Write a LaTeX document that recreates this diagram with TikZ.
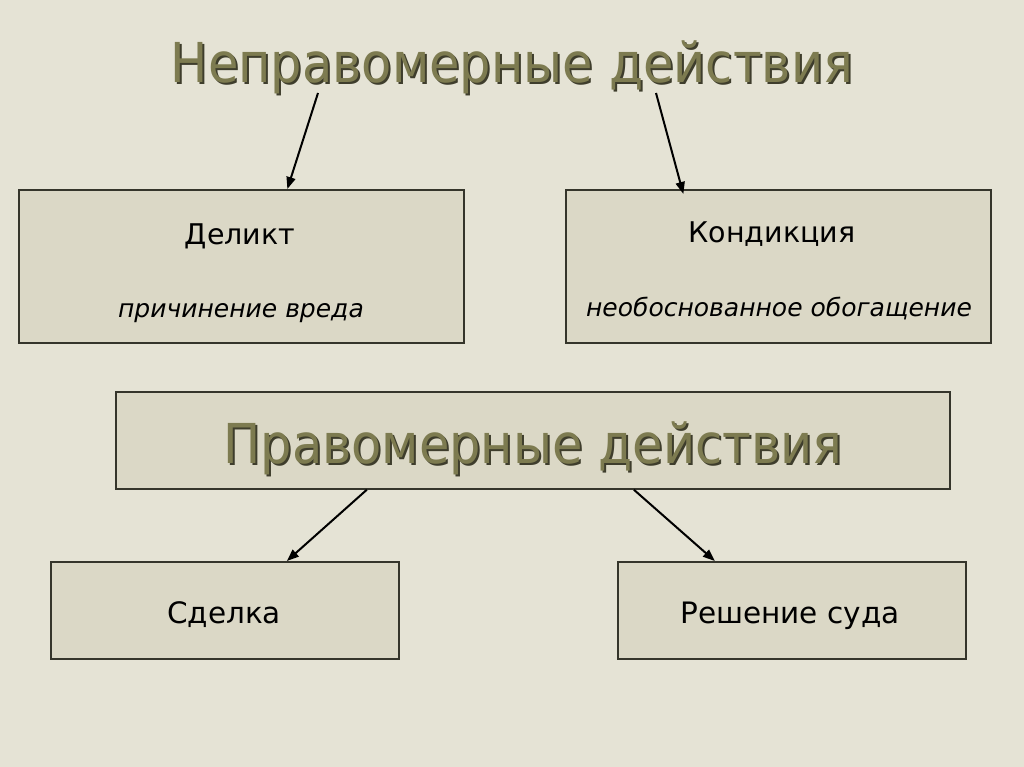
\documentclass[tikz,border=0pt]{standalone}
\usepackage{fontspec}
\setmainfont{DejaVu Sans}[FakeStretch=0.9]
\newfontfamily\bodyfont{DejaVu Sans}
\usetikzlibrary{arrows.meta}

\definecolor{slidebg}{HTML}{E5E3D5}
\definecolor{boxfill}{HTML}{DBD8C6}
\definecolor{boxline}{HTML}{35352B}
\definecolor{olive}{HTML}{7D7B50}
\definecolor{shade}{HTML}{3E3D2C}

\begin{document}
\begin{tikzpicture}[x=1pt,y=-1pt,
    box/.style={draw=boxline,fill=boxfill,line width=1.7pt,inner sep=0pt,anchor=north west},
    head/.style={anchor=base,text=olive,font=\fontsize{55}{60}\selectfont},
    headshade/.style={anchor=base,text=shade,font=\fontsize{55}{60}\selectfont},
    big/.style={anchor=base,font=\bodyfont\fontsize{28.5}{32}\selectfont},
    small/.style={anchor=base,font=\bodyfont\fontsize{25}{30}\selectfont\itshape},
    arr/.style={-{Triangle[length=12pt,width=9pt]},line width=2pt}]
  % background
  \fill[slidebg] (0,0) rectangle (1024,767);
  \useasboundingbox (0,0) rectangle (1024,767);

  % title
  \node[headshade] (titleshade) at (514,85) {Неправомерные действия};
  \node[head] (title) at (512,83) {Неправомерные действия};

  % upper boxes
  \node[box,minimum width=445pt,minimum height=153pt] (delikt) at (18,189) {};
  \node[box,minimum width=425pt,minimum height=153pt] (kond) at (565,189) {};
  \node[big] (deliktname) at (240,244) {Деликт};
  \node[small] (delikttext) at (241,317) {причинение вреда};
  \node[big] (kondname) at (772,242) {Кондикция};
  \node[small] (kondtext) at (779,316) {необоснованное обогащение};

  % middle box
  \node[box,minimum width=834pt,minimum height=97pt] (prav) at (115,391) {};
  \node[headshade] (pravshade) at (535,465) {Правомерные действия};
  \node[head] (pravname) at (533,463) {Правомерные действия};

  % lower boxes
  \node[box,minimum width=348pt,minimum height=97pt] (sdelka) at (50,561) {};
  \node[box,minimum width=348pt,minimum height=97pt] (sud) at (617,561) {};
  \node[big,font=\bodyfont\fontsize{29.5}{32}\selectfont] (sdelkaname) at (224,623) {Сделка};
  \node[big,font=\bodyfont\fontsize{29.5}{32}\selectfont] (sudname) at (790,623) {Решение суда};

  % arrows
  \coordinate (t1) at (318,93);
  \coordinate (t2) at (656,93);
  \draw[arr] (t1) -- ([xshift=46pt]delikt.north);
  \draw[arr] (t2) -- ([xshift=-95pt,yshift=-5pt]kond.north);
  \draw[arr] ([xshift=-166pt]prav.south) -- ([xshift=62pt]sdelka.north);
  \draw[arr] ([xshift=101pt]prav.south) -- ([xshift=-77pt]sud.north);
\end{tikzpicture}
\end{document}
